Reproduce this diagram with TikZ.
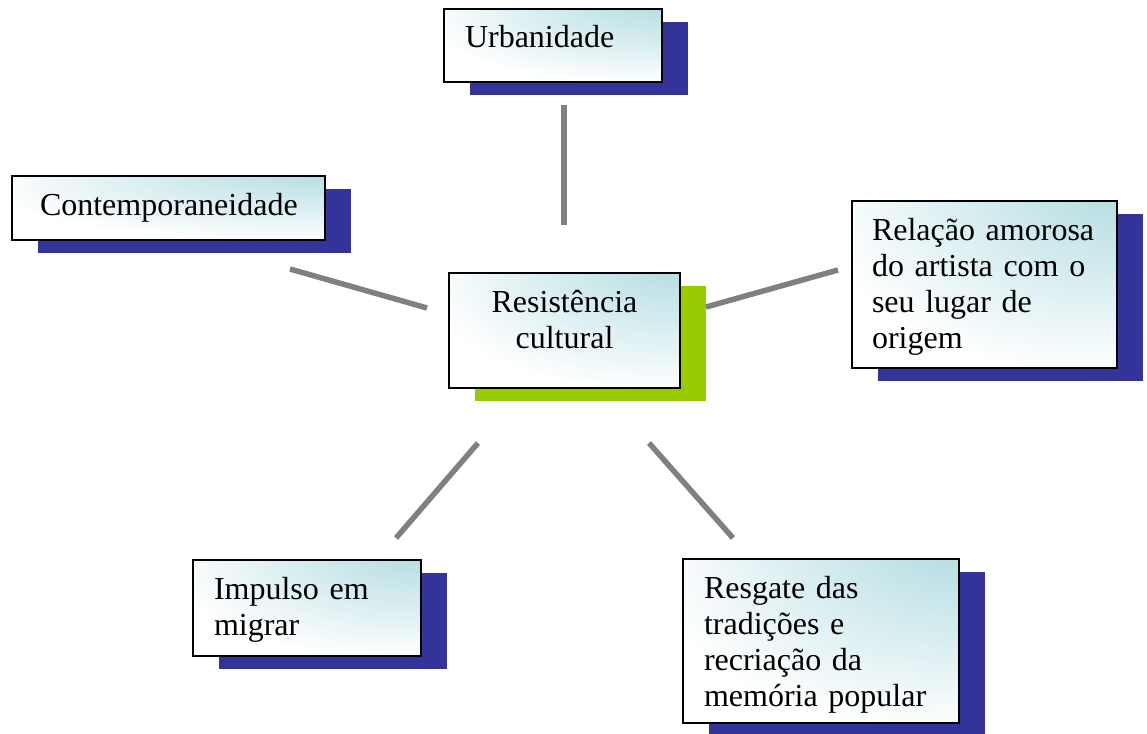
\documentclass[tikz,border=0pt]{standalone}
\usepackage{fontspec}
\setmainfont{Liberation Serif}
\usetikzlibrary{shadows}
\definecolor{boxNavy}{RGB}{51,51,153}
\definecolor{boxGreen}{RGB}{153,204,0}
\definecolor{boxTeal}{RGB}{178,220,225}
\definecolor{linkGray}{RGB}{128,128,128}
\newcommand\colorShadow{boxNavy}
\newcommand\colorShadowCenter{boxGreen}
\newcommand\colorLink{linkGray}
\newcommand\boxFont{\fontsize{32}{36}\selectfont}
\pgfdeclareradialshading{cornerglow}{\pgfpoint{35bp}{42bp}}{color(0bp)=(boxTeal); color(10bp)=(boxTeal); color(48bp)=(white); color(100bp)=(white)}
\tikzset{
	conceptbox/.style={draw=black, line width=2pt, shade, shading=cornerglow,
		anchor=north west, outer sep=0pt, inner xsep=21pt, inner ysep=0pt,
		align=left, font=\boxFont, text height=39pt,
		drop shadow={opacity=1, fill=#1, shadow xshift=26pt, shadow yshift=-13pt}},
	conceptbox/.default=\colorShadow,
	centerbox/.style={conceptbox=\colorShadowCenter, align=center},
	link/.style={draw=\colorLink, line width=5.5pt}
}

\begin{document}
\begin{tikzpicture}[x=1pt, y=-1pt]
		\useasboundingbox (0,0) rectangle (1147,733);
		
		\node[centerbox, text width=189pt, text depth=76pt] (res) at (449,273) {Resistência\\cultural};
		\node[conceptbox, text width=176pt, text depth=34pt] (urb) at (444,9) {Urbanidade};
		\node[conceptbox, inner xsep=28pt, text width=257pt, text depth=25pt] (cont) at (12,176) {Contemporaneidade};
		\node[conceptbox, inner xsep=20pt, text width=225pt, text depth=128pt] (rel) at (852,201) {Relação amorosa\\do artista com o\\seu lugar de\\origem};
		\node[conceptbox, text width=186pt, text depth=57pt] (imp) at (193,560) {Impulso em\\migrar};
		\node[conceptbox, text width=234pt, text depth=125pt] (resg) at (683,559) {Resgate das\\tradições e\\recriação da\\memória popular};
		
		\coordinate (urb-a) at (564,105);
		\coordinate (urb-b) at (564,225);
		\coordinate (cont-a) at (290,269);
		\coordinate (cont-b) at (427,308);
		\coordinate (rel-a) at (838,270);
		\coordinate (rel-b) at (706,307);
		\coordinate (imp-a) at (396,538);
		\coordinate (imp-b) at (478,443);
		\coordinate (resg-a) at (733,538);
		\coordinate (resg-b) at (649,443);
		
		\foreach \n in {urb,cont,rel,imp,resg}{
			\draw[link] (\n-a) -- (\n-b);
		}
	\end{tikzpicture}
\end{document}
